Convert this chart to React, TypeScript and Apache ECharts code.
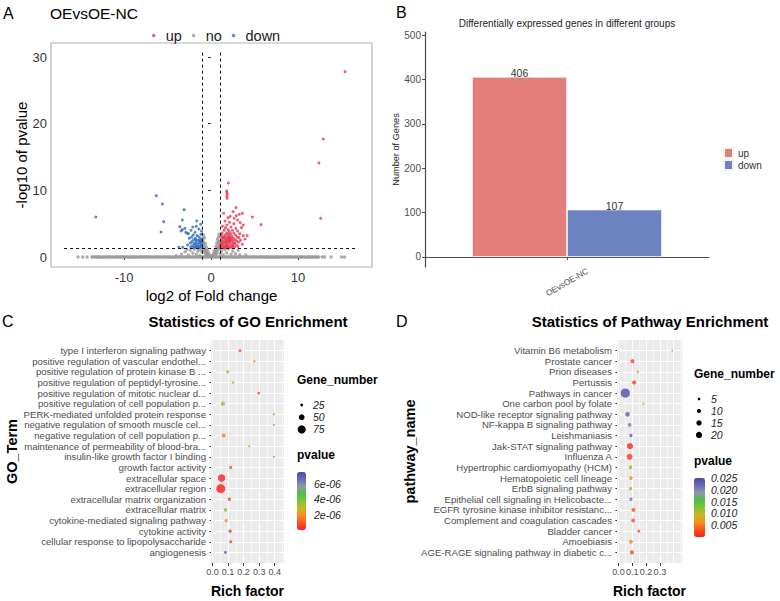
import React, { useEffect, useRef } from 'react';
import * as echarts from 'echarts';

const FONT = '"Liberation Sans", Arial, Helvetica, sans-serif';

// ---------------- Panel A : volcano plot [log2 fold change, -log10 pvalue] ----------------
const volcanoUp: number[][] = [
  [15.4, 27.8], [12.9, 17.7], [12.4, 14.1], [12.6, 5.8],
  [2.0, 11.1], [1.8, 9.9], [1.82, 9.65], [1.85, 9.4], [1.8, 9.1], [1.85, 8.8],
  [1.45, 6.55], [2.55, 6.8], [2.9, 6.2], [3.25, 6.4], [3.6, 6.55], [2.65, 5.8], [3.05, 5.55],
  [3.35, 5.15], [3.7, 4.8], [4.75, 6.0], [5.75, 4.85], [4.15, 3.2], [2.85, 7.4], [2.2, 6.1], [1.95, 5.9],
  [1.05, 1.4], [1.1, 1.9], [1.15, 2.5], [1.12, 3.1], [1.2, 1.5], [1.25, 2.1], [1.3, 2.8], [1.28, 3.6],
  [1.35, 1.35], [1.4, 1.8], [1.42, 2.4], [1.45, 3.0], [1.5, 4.0], [1.55, 1.6], [1.58, 2.2], [1.6, 2.7],
  [1.62, 3.3], [1.65, 4.4], [1.7, 1.45], [1.72, 1.95], [1.75, 2.5], [1.78, 3.0], [1.8, 3.6], [1.82, 4.8],
  [1.85, 1.7], [1.88, 2.3], [1.9, 2.85], [1.92, 3.4], [1.95, 4.1], [2.0, 1.4], [2.02, 2.0], [2.05, 2.6],
  [2.08, 3.2], [2.1, 3.8], [2.12, 5.2], [2.15, 1.6], [2.2, 2.2], [2.22, 2.9], [2.25, 3.5], [2.28, 4.5],
  [2.3, 1.45], [2.35, 1.9], [2.38, 2.5], [2.4, 3.1], [2.45, 4.0], [2.5, 1.7], [2.52, 2.3], [2.55, 2.8],
  [2.6, 3.6], [2.62, 5.0], [2.7, 1.5], [2.72, 2.1], [2.75, 2.6], [2.8, 3.3], [2.85, 4.3], [2.9, 1.8],
  [2.95, 2.4], [3.0, 3.0], [3.05, 3.9], [3.1, 1.55], [3.15, 2.2], [3.2, 2.9], [3.3, 3.5], [3.4, 2.5],
  [3.5, 4.4], [3.6, 1.9], [3.7, 3.2], [3.9, 2.7], [1.3, 4.6], [1.6, 5.4], [1.1, 1.6], [1.2, 2.3],
  [1.5, 1.4], [1.7, 2.2], [2.0, 2.4], [2.3, 2.7], [1.9, 1.5], [2.6, 2.0], [1.4, 2.9], [2.1, 3.0],
  [1.15, 1.75], [1.35, 2.05], [1.55, 2.95], [1.75, 1.8], [1.95, 2.65], [2.15, 2.45], [2.45, 1.55], [1.25, 3.3]
];
const volcanoDown: number[][] = [
  [-13.25, 6.0], [-6.3, 9.2], [-5.6, 7.95], [-5.45, 5.3], [-5.75, 3.75], [-3.1, 7.1], [-3.3, 5.55],
  [-3.6, 4.55], [-3.3, 4.1], [-2.9, 3.7], [-3.0, 4.3], [-3.7, 1.45], [-3.25, 1.45], [-3.45, 3.9], [-2.75, 3.55],
  [-1.05, 1.4], [-1.1, 2.0], [-1.12, 2.7], [-1.15, 3.4], [-1.2, 4.9], [-1.25, 1.6], [-1.3, 2.3], [-1.35, 3.0],
  [-1.4, 4.2], [-1.45, 1.35], [-1.5, 1.9], [-1.55, 2.5], [-1.6, 3.2], [-1.65, 5.4], [-1.7, 1.6], [-1.75, 2.2],
  [-1.8, 2.8], [-1.85, 3.7], [-1.9, 1.45], [-1.95, 2.0], [-2.0, 2.6], [-2.05, 3.3], [-2.1, 4.5], [-2.15, 1.7],
  [-2.2, 2.3], [-2.25, 3.0], [-2.35, 1.5], [-2.4, 2.1], [-2.5, 2.8], [-2.6, 3.5], [-1.3, 1.5], [-1.6, 1.4],
  [-1.4, 2.1], [-1.2, 2.4], [-1.8, 1.9], [-2.0, 1.5], [-1.1, 3.9], [-1.7, 4.6], [-2.3, 4.0], [-2.7, 1.8],
  [-1.15, 1.75], [-1.35, 2.6], [-1.55, 1.55], [-1.75, 2.55], [-1.05, 2.3]
];
const volcanoNo: number[][] = [
  [-15.3, 0], [-14.75, 0], [-14.25, 0],
  [-13.7, 0], [-13.55, 0.01], [-13.4, 0.02], [-13.25, 0], [-13.1, 0], [-12.95, 0.01], [-12.8, 0.01], [-12.65, 0],
  [-12.5, 0], [-12.35, 0.01], [-12.2, 0.02], [-12.05, 0], [-11.9, 0], [-11.75, 0.01], [-11.6, 0.01], [-11.45, 0],
  [-11.3, 0], [-11.15, 0.01], [-11.0, 0.02], [-10.85, 0], [-10.7, 0], [-10.55, 0.01], [-10.4, 0.01], [-10.25, 0],
  [-10.1, 0], [-9.95, 0.01], [-9.8, 0.02], [-9.65, 0], [-9.5, 0], [-9.35, 0.01], [-9.2, 0.01], [-9.05, 0],
  [-8.9, 0], [-8.75, 0.01], [-8.6, 0.02], [-8.45, 0], [-8.3, 0], [-8.15, 0.01], [-8.0, 0.01], [-7.85, 0],
  [-7.7, 0], [-7.55, 0.01], [-7.4, 0.02], [-7.25, 0], [-7.1, 0], [-6.95, 0.01], [-6.8, 0.01], [-6.65, 0],
  [-6.5, 0], [-6.35, 0.01], [-6.2, 0.02], [-6.05, 0], [-5.9, 0], [-5.75, 0.01], [-5.6, 0.01], [-5.45, 0],
  [-5.3, 0], [-5.15, 0.01], [-5.0, 0.02], [-4.85, 0], [-4.7, 0], [-4.55, 0.01], [-4.4, 0.01], [-4.25, 0],
  [-4.1, 0], [-3.95, 0.01], [-3.8, 0.02], [-3.65, 0], [-3.5, 0], [-3.35, 0.01], [-3.2, 0.01], [-3.05, 0],
  [-2.9, 0], [-2.75, 0.01], [-2.6, 0.02], [-2.45, 0], [-2.3, 0], [-2.15, 0.01], [-2.0, 0.01], [-1.85, 0],
  [-1.7, 0], [-1.55, 0.01], [-1.4, 0.02], [-1.25, 0], [-1.1, 0], [-0.95, 0.01], [-0.8, 0.01], [-0.65, 0],
  [-0.5, 0], [-0.35, 0.01], [-0.2, 0.02], [-0.05, 0], [0.1, 0], [0.25, 0.01], [0.4, 0.01], [0.55, 0],
  [0.7, 0], [0.85, 0.01], [1.0, 0.02], [1.15, 0], [1.3, 0], [1.45, 0.01], [1.6, 0.01], [1.75, 0],
  [1.9, 0], [2.05, 0.01], [2.2, 0.02], [2.35, 0], [2.5, 0], [2.65, 0.01], [2.8, 0.01], [2.95, 0],
  [3.1, 0], [3.25, 0.01], [3.4, 0.02], [3.55, 0], [3.7, 0], [3.85, 0.01], [4.0, 0.01], [4.15, 0],
  [4.3, 0], [4.45, 0.01], [4.6, 0.02], [4.75, 0], [4.9, 0], [5.05, 0.01], [5.2, 0.01], [5.35, 0],
  [5.5, 0], [5.65, 0.01], [5.8, 0.02], [5.95, 0], [6.1, 0], [6.25, 0.01], [6.4, 0.01], [6.55, 0],
  [6.7, 0], [6.85, 0.01], [7.0, 0.02], [7.15, 0], [7.3, 0], [7.45, 0.01], [7.6, 0.01], [7.75, 0],
  [7.9, 0], [8.05, 0.01], [8.2, 0.02], [8.35, 0], [8.5, 0], [8.65, 0.01], [8.8, 0.01], [8.95, 0],
  [9.1, 0], [9.25, 0.01], [9.4, 0.02], [9.55, 0], [9.7, 0], [9.85, 0.01], [10.0, 0.01], [10.15, 0],
  [10.3, 0], [10.45, 0.01], [10.6, 0.02], [10.75, 0], [10.9, 0], [11.05, 0.01], [11.2, 0.01], [11.35, 0],
  [11.5, 0], [11.65, 0.01], [11.8, 0.02], [11.95, 0], [12.1, 0], [12.25, 0.01], [12.4, 0.01],
  [12.8, 0], [13.05, 0], [13.8, 0], [15.0, 0], [15.35, 0],
  [-0.9, 2.8], [-0.85, 2.2], [-0.8, 1.6], [-0.75, 2.9], [-0.7, 1.2], [-0.65, 2.0], [-0.6, 0.9], [-0.55, 1.5],
  [-0.5, 0.6], [-0.45, 1.1], [-0.4, 0.4], [-0.35, 0.8], [-0.3, 0.3], [-0.25, 0.5], [-0.2, 0.2], [-0.1, 0.1],
  [0.1, 0.15], [0.2, 0.3], [0.3, 0.5], [0.35, 0.8], [0.4, 0.35], [0.45, 1.1], [0.5, 0.7], [0.55, 1.6],
  [0.6, 1.0], [0.65, 2.1], [0.7, 1.4], [0.75, 2.7], [0.8, 1.8], [0.85, 3.0], [0.9, 2.3], [0.95, 1.2],
  [-0.95, 1.0], [-0.9, 3.3], [0.92, 3.4], [-0.98, 2.4], [0.97, 2.0], [-0.88, 1.9], [0.82, 2.4],
  [-0.72, 0.7], [-0.62, 0.4], [-0.52, 0.25], [0.52, 0.3], [0.62, 0.5], [0.72, 0.8], [-0.82, 1.0], [0.88, 1.4],
  [-3.4, 0.4], [-3.0, 0.8], [-2.6, 0.3], [-2.4, 1.0], [-2.1, 0.6], [-1.9, 1.2], [-1.7, 0.4], [-1.5, 0.9],
  [-1.3, 0.2], [-1.2, 1.1], [1.2, 0.9], [1.4, 0.3], [1.6, 1.1], [1.8, 0.6], [2.0, 1.2], [2.3, 0.4],
  [2.5, 0.9], [2.8, 0.5], [3.1, 1.0], [3.3, 0.3], [-4.0, 0.2], [4.0, 0.3], [-1.05, 0.7], [1.05, 0.5], [-2.8, 1.15]
];
const volcanoXTicks = [-10, 0, 10];
const volcanoYTicks = [0, 10, 20, 30];
const foldCutoffs = [-1, 1];
const pCutoff = 1.3;

// ---------------- Panel B : DEG counts ----------------
const degGroups = ['OEvsOE-NC'];
const degUp = [406];
const degDown = [107];
const degYTicks = [0, 100, 200, 300, 400, 500];

// ---------------- Panel C : GO enrichment ----------------
const goTerms = [
  'type I interferon signaling pathway',
  'positive regulation of vascular endothel...',
  'positive regulation of protein kinase B ...',
  'positive regulation of peptidyl-tyrosine...',
  'positive regulation of mitotic nuclear d...',
  'positive regulation of cell population p...',
  'PERK-mediated unfolded protein response',
  'negative regulation of smooth muscle cel...',
  'negative regulation of cell population p...',
  'maintenance of permeability of blood-bra...',
  'insulin-like growth factor I binding',
  'growth factor activity',
  'extracellular space',
  'extracellular region',
  'extracellular matrix organization',
  'extracellular matrix',
  'cytokine-mediated signaling pathway',
  'cytokine activity',
  'cellular response to lipopolysaccharide',
  'angiogenesis'
];
const goRich = [0.177, 0.269, 0.098, 0.132, 0.297, 0.067, 0.395, 0.395, 0.072, 0.236, 0.395, 0.117, 0.058, 0.053, 0.108, 0.083, 0.087, 0.113, 0.117, 0.083];
const goPvalue = [0.3e-6, 1.8e-6, 3.5e-6, 3.0e-6, 0.4e-6, 3.3e-6, 3.8e-6, 3.8e-6, 1.7e-6, 3.0e-6, 3.8e-6, 0.5e-6, 0.02e-6, 0.01e-6, 0.4e-6, 3.7e-6, 1.5e-6, 0.3e-6, 0.4e-6, 7.4e-6];
const goGenes = [25, 23, 29, 25, 25, 37, 22, 22, 34, 22, 22, 27, 68, 88, 29, 30, 28, 29, 27, 25];
const goXTicks = [0, 0.1, 0.2, 0.3, 0.4];
const goSizeBreaks = [25, 50, 75];
const goPBreaks = [2e-6, 4e-6, 6e-6];

// ---------------- Panel D : KEGG pathway enrichment ----------------
const keggPathways = [
  'Vitamin B6 metabolism',
  'Prostate cancer',
  'Prion diseases',
  'Pertussis',
  'Pathways in cancer',
  'One carbon pool by folate',
  'NOD-like receptor signaling pathway',
  'NF-kappa B signaling pathway',
  'Leishmaniasis',
  'Jak-STAT signaling pathway',
  'Influenza A',
  'Hypertrophic cardiomyopathy (HCM)',
  'Hematopoietic cell lineage',
  'ErbB signaling pathway',
  'Epithelial cell signaling in Helicobacte...',
  'EGFR tyrosine kinase inhibitor resistanc...',
  'Complement and coagulation cascades',
  'Bladder cancer',
  'Amoebiasis',
  'AGE-RAGE signaling pathway in diabetic c...'
];
const keggRich = [0.39, 0.102, 0.141, 0.114, 0.05, 0.181, 0.066, 0.081, 0.091, 0.084, 0.081, 0.088, 0.091, 0.088, 0.091, 0.109, 0.107, 0.148, 0.091, 0.098];
const keggPvalue = [0.008, 0.002, 0.009, 0.002, 0.0245, 0.009, 0.023, 0.021, 0.023, 0.0005, 0.0015, 0.012, 0.006, 0.012, 0.021, 0.0025, 0.0025, 0.003, 0.006, 0.0025];
const keggGenes = [3, 10, 5, 10, 40, 4, 12, 8, 7, 19, 18, 8, 8, 7, 7, 9, 9, 6, 9, 10];
const keggXTicks = [0, 0.1, 0.2, 0.3];
const keggSizeBreaks = [5, 10, 15, 20];
const keggPBreaks = [0.005, 0.01, 0.015, 0.02, 0.025];

const PALETTE = ['#FF1C1C', '#FF5522', '#F58E1E', '#C9B823', '#7EC235', '#4DBF46', '#8E9AA6', '#6A6AB8', '#4A48A4'];

const goSize = (v: number) => Math.max(1.8, -4.5 + 1.45 * Math.sqrt(v));
const keggSize = (v: number) => Math.max(1.8, -0.9 + 1.61 * Math.sqrt(v));

function gridLines(xMax: number) {
  const data: any[] = [];
  for (let i = 0; i * 0.05 <= xMax + 1e-9; i++) {
    data.push({ xAxis: +(i * 0.05).toFixed(2), lineStyle: { width: i % 2 === 0 ? 1.1 : 0.55 } });
  }
  for (let r = 1; r <= 20; r++) data.push({ yAxis: r, lineStyle: { width: 1.1 } });
  return {
    silent: true, z: 1, symbol: ['none', 'none'], label: { show: false },
    lineStyle: { color: '#FFFFFF', type: 'solid' }, emphasis: { disabled: true }, data
  };
}

function buildOption() {
  const rows = goTerms.length;
  const goData = goTerms.map((_, i) => [goRich[i], rows - i, goPvalue[i], goGenes[i]]);
  const keggData = keggPathways.map((_, i) => [keggRich[i], rows - i, keggPvalue[i], keggGenes[i]]);
  const axisText = { color: '#4D4D4D', fontFamily: FONT };
  const tickStyle = { lineStyle: { color: '#333333', width: 1 } };
  const enrichY = (names: string[], nameText: string, gap: number, grid: number) => ({
    type: 'value', gridIndex: grid, min: 0, max: rows + 1,
    name: nameText, nameLocation: 'middle', nameGap: gap, nameRotate: 90,
    nameTextStyle: { fontFamily: FONT, fontWeight: 'bold', fontSize: 14.5, color: '#000' },
    axisLine: { show: false }, splitLine: { show: false },
    axisTick: { show: true, length: 3, customValues: names.map((_, i) => i + 1), ...tickStyle },
    axisLabel: {
      ...axisText, fontSize: 9.6, margin: 5,
      customValues: names.map((_, i) => i + 1),
      formatter: (v: number) => names[rows - Math.round(v)] ?? ''
    }
  });
  const enrichX = (ticks: number[], grid: number, max: number) => ({
    type: 'value', gridIndex: grid, min: -0.01, max,
    name: 'Rich factor', nameLocation: 'middle', nameGap: 21,
    nameTextStyle: { fontFamily: FONT, fontWeight: 'bold', fontSize: 14, color: '#000' },
    axisLine: { show: false }, splitLine: { show: false },
    axisTick: { show: true, length: 3, customValues: ticks, ...tickStyle },
    axisLabel: { ...axisText, fontSize: 9, margin: 4, customValues: ticks, formatter: (v: number) => v.toFixed(1) }
  });

  const legendKeys = (breaks: number[], sizeFn: (v: number) => number, x: number, y0: number, dy: number, lx: number) => {
    const els: any[] = [];
    breaks.forEach((b, i) => {
      els.push({ type: 'circle', shape: { cx: x, cy: y0 + i * dy, r: sizeFn(b) / 2 }, style: { fill: '#000' } });
      els.push({ type: 'text', x: lx, y: y0 + i * dy, style: { text: String(b), fill: '#222', fontFamily: FONT, fontSize: 10.5, fontStyle: 'italic', textVerticalAlign: 'middle' } });
    });
    return els;
  };
  const txt = (text: string, x: number, y: number, size: number, extra: any = {}) => ({
    type: 'text', x, y,
    style: { text, fill: '#000', fontFamily: FONT, fontSize: size, textVerticalAlign: 'middle', ...extra }
  });

  return {
    animation: false,
    backgroundColor: '#FFFFFF',
    textStyle: { fontFamily: FONT },
    grid: [
      { left: 51, top: 43, width: 321, height: 224, show: true, borderColor: '#B3B3B3', borderWidth: 1.2, backgroundColor: '#FFFFFF' },
      { left: 425, top: 32, width: 284, height: 235 },
      { left: 211, top: 340, width: 73, height: 223, show: true, backgroundColor: '#EBEBEB', borderWidth: 0 },
      { left: 617, top: 340, width: 65, height: 223, show: true, backgroundColor: '#EBEBEB', borderWidth: 0 },
      { left: 297, top: 472, width: 9, height: 58 },
      { left: 694, top: 478, width: 11, height: 59 }
    ],
    xAxis: [
      {
        type: 'value', gridIndex: 0, min: -18.4, max: 18.5,
        name: 'log2 of Fold change', nameLocation: 'middle', nameGap: 21,
        nameTextStyle: { fontFamily: FONT, fontSize: 15, color: '#000' },
        axisLine: { show: false }, splitLine: { show: false },
        axisTick: { show: true, length: 3, customValues: volcanoXTicks, lineStyle: { color: '#333' } },
        axisLabel: { color: '#333', fontFamily: FONT, fontSize: 13, margin: 4, customValues: volcanoXTicks }
      },
      {
        type: 'category', gridIndex: 1, data: degGroups,
        axisLine: { show: true, lineStyle: { color: '#4D4D4D', width: 1.2 } },
        axisTick: { show: true, length: 3, alignWithLabel: true, lineStyle: { color: '#4D4D4D' } },
        axisLabel: { color: '#4D4D4D', fontFamily: FONT, fontSize: 8.4, rotate: 30, align: 'center', verticalAlign: 'middle', margin: 15 }
      },
      enrichX(goXTicks, 2, 0.46),
      enrichX(keggXTicks, 3, 0.46),
      { type: 'value', gridIndex: 4, show: false, min: 0, max: 1 },
      { type: 'value', gridIndex: 5, show: false, min: 0, max: 1 }
    ],
    yAxis: [
      {
        type: 'value', gridIndex: 0, min: -1.5, max: 32.1,
        name: '-log10 of pvalue', nameLocation: 'middle', nameGap: 16, nameRotate: 90,
        nameTextStyle: { fontFamily: FONT, fontSize: 15, color: '#000' },
        axisLine: { show: false }, splitLine: { show: false },
        axisTick: { show: true, length: 3, customValues: volcanoYTicks, lineStyle: { color: '#333' } },
        axisLabel: { color: '#333', fontFamily: FONT, fontSize: 13, margin: 4, customValues: volcanoYTicks }
      },
      {
        type: 'value', gridIndex: 1, min: -22.6, max: 507,
        name: 'Number of Genes', nameLocation: 'middle', nameGap: 18, nameRotate: 90,
        nameTextStyle: { fontFamily: FONT, fontSize: 9.2, color: '#222' },
        axisLine: { show: true, lineStyle: { color: '#4D4D4D', width: 1.2 } }, splitLine: { show: false },
        axisTick: { show: true, length: 3, customValues: degYTicks, lineStyle: { color: '#4D4D4D' } },
        axisLabel: { color: '#4D4D4D', fontFamily: FONT, fontSize: 10, margin: 4, customValues: degYTicks }
      },
      enrichY(goTerms, 'GO_Term', 192, 2),
      enrichY(keggPathways, 'pathway_name', 200, 3),
      {
        type: 'value', gridIndex: 4, position: 'right', min: 0, max: 7.5e-6,
        axisLine: { show: false }, splitLine: { show: false },
        axisTick: { show: true, inside: true, length: 2, customValues: goPBreaks, lineStyle: { color: '#FFFFFF' } },
        axisLabel: {
          color: '#222', fontFamily: FONT, fontSize: 10.5, fontStyle: 'italic', margin: 8, customValues: goPBreaks,
          formatter: (v: number) => v.toExponential(0).replace(/e-(\d)$/, 'e-0$1')
        }
      },
      {
        type: 'value', gridIndex: 5, position: 'right', min: 0, max: 0.0251,
        axisLine: { show: false }, splitLine: { show: false },
        axisTick: { show: true, inside: true, length: 2, customValues: keggPBreaks, lineStyle: { color: '#FFFFFF' } },
        axisLabel: {
          color: '#222', fontFamily: FONT, fontSize: 10.5, fontStyle: 'italic', margin: 6, customValues: keggPBreaks,
          formatter: (v: number) => v.toFixed(3)
        }
      }
    ],
    legend: [
      {
        data: ['up', 'no', 'down'], left: 147, top: 23, orient: 'horizontal', selectedMode: false,
        icon: 'circle', itemWidth: 14, itemHeight: 3.5, itemGap: 10,
        textStyle: { fontFamily: FONT, fontSize: 14.5, color: '#222' }
      },
      {
        data: ['up ', 'down '], left: 718, top: 142, orient: 'vertical', selectedMode: false,
        icon: 'rect', itemWidth: 9, itemHeight: 10, itemGap: 0,
        formatter: (n: string) => n.trim(),
        textStyle: { fontFamily: FONT, fontSize: 10, color: '#333', lineHeight: 10 }
      }
    ],
    visualMap: [
      {
        type: 'continuous', seriesIndex: 7, dimension: 2, min: 0, max: 7.5e-6,
        inRange: { color: PALETTE }, show: true, calculable: false, hoverLink: false,
        left: 297, top: 472, itemWidth: 9, itemHeight: 58, padding: 0, orient: 'vertical'
      },
      {
        type: 'continuous', seriesIndex: 9, dimension: 2, min: 0, max: 0.0251,
        inRange: { color: PALETTE }, show: true, calculable: false, hoverLink: false,
        left: 694, top: 478, itemWidth: 11, itemHeight: 59, padding: 0, orient: 'vertical'
      }
    ],
    series: [
      { name: 'no', type: 'scatter', xAxisIndex: 0, yAxisIndex: 0, data: volcanoNo, symbolSize: 3.4, z: 2, itemStyle: { color: '#9A9A9A' } },
      { name: 'up', type: 'scatter', xAxisIndex: 0, yAxisIndex: 0, data: volcanoUp, symbolSize: 3, z: 3, itemStyle: { color: '#E33B52' } },
      { name: 'down', type: 'scatter', xAxisIndex: 0, yAxisIndex: 0, data: volcanoDown, symbolSize: 3, z: 3, itemStyle: { color: '#2E6DB8' } },
      {
        type: 'scatter', xAxisIndex: 0, yAxisIndex: 0, data: [], z: 4,
        markLine: {
          silent: true, symbol: ['none', 'none'], label: { show: false }, emphasis: { disabled: true },
          lineStyle: { color: '#111', width: 1, type: [3, 3] },
          data: [
            ...foldCutoffs.map(f => [{ coord: [f, -0.4] }, { coord: [f, 30.7] }]),
            [{ coord: [-16.9, pCutoff] }, { coord: [16.9, pCutoff] }]
          ]
        }
      },
      {
        name: 'up ', type: 'bar', xAxisIndex: 1, yAxisIndex: 1, data: degUp, barWidth: 95, barGap: '0%',
        itemStyle: { color: '#E27F79', borderColor: '#F4F4F4', borderWidth: 0.8 },
        label: { show: true, position: 'top', distance: -2, color: '#333', fontFamily: FONT, fontSize: 10.5 }
      },
      {
        name: 'down ', type: 'bar', xAxisIndex: 1, yAxisIndex: 1, data: degDown, barWidth: 95, barGap: '0%',
        itemStyle: { color: '#6D83BF', borderColor: '#F4F4F4', borderWidth: 0.8 },
        label: { show: true, position: 'top', distance: -2, color: '#333', fontFamily: FONT, fontSize: 10.5 }
      },
      { type: 'scatter', xAxisIndex: 2, yAxisIndex: 2, data: [], z: 1, markLine: gridLines(0.45) },
      {
        type: 'scatter', xAxisIndex: 2, yAxisIndex: 2, data: goData, z: 6,
        symbolSize: (d: number[]) => goSize(d[3])
      },
      { type: 'scatter', xAxisIndex: 3, yAxisIndex: 3, data: [], z: 1, markLine: gridLines(0.45) },
      {
        type: 'scatter', xAxisIndex: 3, yAxisIndex: 3, data: keggData, z: 6,
        symbolSize: (d: number[]) => keggSize(d[3])
      }
    ],
    graphic: [
      txt('A', 3, 13, 16),
      txt('B', 396, 12, 16),
      txt('C', 2, 321, 16),
      txt('D', 396, 321, 16),
      txt('OEvsOE-NC', 50, 13, 15.5),
      txt('Differentially expressed genes in different groups', 567, 23, 10, { textAlign: 'center', fill: '#222' }),
      txt('Statistics of GO Enrichment', 248, 321, 15, { textAlign: 'center', fontWeight: 'bold' }),
      txt('Statistics of Pathway Enrichment', 650, 321, 15, { textAlign: 'center', fontWeight: 'bold' }),
      txt('Gene_number', 297, 380, 12, { fontWeight: 'bold' }),
      txt('pvalue', 297, 455, 12, { fontWeight: 'bold' }),
      txt('Gene_number', 694, 374, 12, { fontWeight: 'bold' }),
      txt('pvalue', 694, 461, 12, { fontWeight: 'bold' }),
      ...legendKeys(goSizeBreaks, goSize, 301.7, 405, 12.2, 313),
      ...legendKeys(keggSizeBreaks, keggSize, 699, 399, 12, 711)
    ]
  };
}

export default function App() {
  const ref = useRef<HTMLDivElement>(null);
  useEffect(() => {
    if (!ref.current) return;
    const chart = echarts.init(ref.current, undefined, { renderer: 'svg' });
    chart.setOption(buildOption() as any);
    return () => chart.dispose();
  }, []);
  return <div ref={ref} style={{ position: 'fixed', left: 0, top: 0, width: 780, height: 601, background: '#fff' }} />;
}
